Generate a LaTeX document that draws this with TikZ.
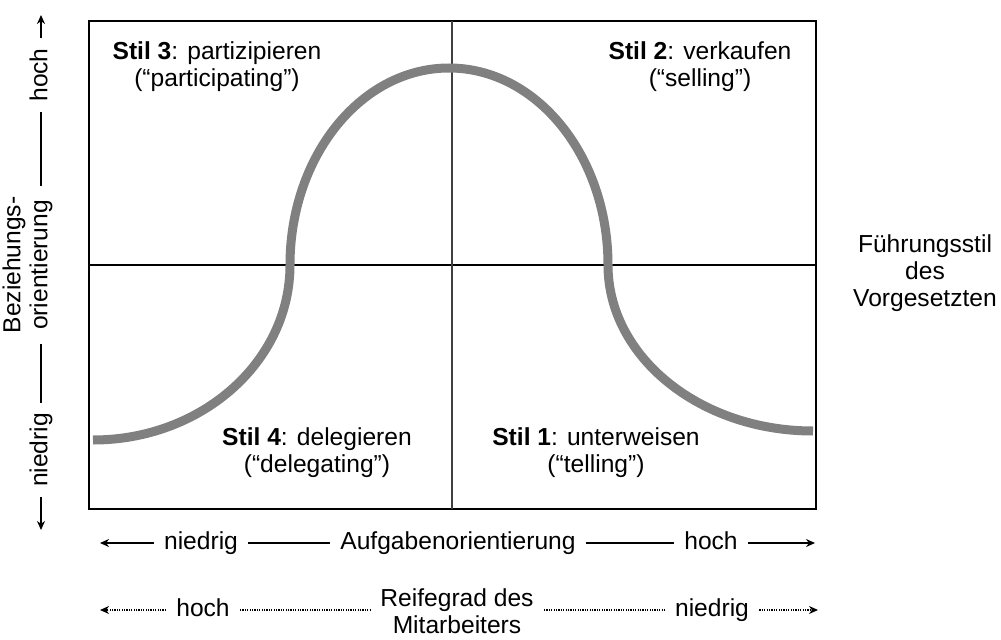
\documentclass[tikz,border=0pt]{standalone}
\usepackage{fontspec}
\setmainfont{Liberation Sans}
\usetikzlibrary{arrows.meta}
\definecolor{CurveGray}{RGB}{128, 128, 128}
\begin{document}
\begin{tikzpicture}[x=0.5pt, y=0.5pt,
  lab/.style={font=\fontsize{12.3}{13.6}\selectfont, align=center, inner sep=1pt},
  axlab/.style={lab, inner sep=5pt, text height=9pt, text depth=2.5pt},
  vlab/.style={axlab, rotate=90},
  axis/.style={line width=0.75pt},
  arr/.style={axis, -{Stealth[length=4.5pt, width=4pt]}},
  dots/.style={line width=0.75pt, dash pattern=on 0.6pt off 0.6pt},
  darr/.style={dots, -{Stealth[length=4.5pt, width=4pt]}},
  bell/.style={draw=CurveGray, line width=4.5pt}]
\useasboundingbox (0,0) rectangle (1001,639);
% grid of four styles
\draw[line width=0.8pt] (89,130) rectangle (816,618);
\draw[line width=0.8pt] (89,374) -- (816,374);
\draw[line width=0.8pt, black!75] (452,130) -- (452,618);
\draw[bell] (93,199) arc[start angle=270, end angle=360, x radius=98.5pt, y radius=87.5pt]
  arc[start angle=180, end angle=0, x radius=79.5pt, y radius=98.5pt]
  arc[start angle=180, end angle=270, x radius=102.5pt, y radius=83pt];
\node[lab] (stil3) at (217, 572) {\textbf{Stil 3}: partizipieren\\(“participating”)};
\node[lab] (stil2) at (700, 572) {\textbf{Stil 2}: verkaufen\\(“selling”)};
\node[lab] (stil4) at (317, 186) {\textbf{Stil 4}: delegieren\\(“delegating”)};
\node[lab] (stil1) at (596, 186) {\textbf{Stil 1}: unterweisen\\(“telling”)};
\node[lab] (fstil) at (925, 366) {Führungsstil\\des\\Vorgesetzten};
% vertical axis
\coordinate (vtop) at (41, 624);
\coordinate (vbot) at (41, 109);
\node[vlab] (vhi) at (41, 564) {hoch};
\node[vlab] (bez) at (41, 374) {Beziehungs-\\orientierung};
\node[vlab] (vlo) at (41, 189) {niedrig};
\draw[arr] (vhi) -- (vtop); \draw[axis] (vhi) -- (bez); \draw[axis] (bez) -- (vlo); \draw[arr] (vlo) -- (vbot);
% horizontal axes
\coordinate (aleft) at (100, 96);
\coordinate (aright) at (815, 96);
\node[axlab] (alo) at (201, 96) {niedrig};
\node[axlab] (aufg) at (458, 96) {Aufgabenorientierung};
\node[axlab] (ahi) at (711, 96) {hoch};
\draw[arr] (alo) -- (aleft); \draw[axis] (alo) -- (aufg); \draw[axis] (aufg) -- (ahi); \draw[arr] (ahi) -- (aright);
\coordinate (mleft) at (100, 29);
\coordinate (mright) at (818, 29);
\node[axlab] (mhi) at (203, 29) {hoch};
\node[lab, inner sep=5pt] (reif) at (457, 28) {Reifegrad des\\Mitarbeiters};
\node[axlab] (mlo) at (712, 29) {niedrig};
\draw[darr] (mhi) -- (mleft); \draw[dots] (mhi) -- (mhi -| reif.west); \draw[dots] (mlo -| reif.east) -- (mlo); \draw[darr] (mlo) -- (mright);
\end{tikzpicture}
\end{document}
